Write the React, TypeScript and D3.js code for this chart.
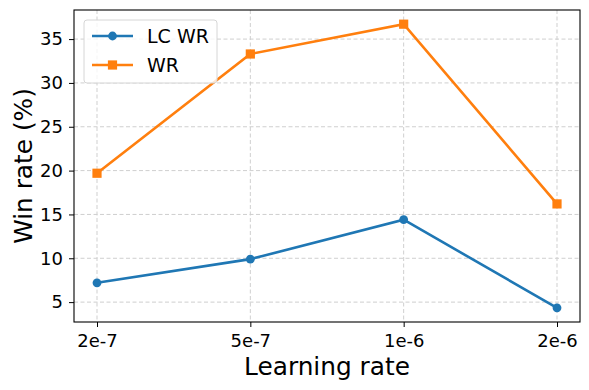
import React, { useEffect, useRef } from 'react';
import * as d3 from 'd3';

const learningRates = ['2e-7', '5e-7', '1e-6', '2e-6'];
const lcWinRate = [7.2, 9.9, 14.4, 4.35];
const winRate = [19.7, 33.3, 36.7, 16.2];
const yTicks = [5, 10, 15, 20, 25, 30, 35];

export default function App() {
  const ref = useRef<SVGSVGElement | null>(null);

  useEffect(() => {
    const W = 589;
    const H = 390;
    const margin = { top: 10, right: 9, bottom: 68, left: 74 };
    const width = W - margin.left - margin.right;
    const height = H - margin.top - margin.bottom;

    const svg = d3.select(ref.current);
    svg.selectAll('*').remove();
    const g = svg.append('g').attr('transform', `translate(${margin.left},${margin.top})`);

    // categorical positions with matplotlib-like 5% padding
    const x = d3.scaleLinear().domain([-0.15, 3.15]).range([0, width]);
    const all = lcWinRate.concat(winRate);
    const lo = d3.min(all)!;
    const hi = d3.max(all)!;
    const pad = (hi - lo) * 0.05;
    const y = d3.scaleLinear().domain([lo - pad, hi + pad]).range([height, 0]);

    const font = 'DejaVu Sans, sans-serif';

    // grid
    const grid = g.append('g');
    grid.selectAll('.gx')
      .data(learningRates)
      .enter()
      .append('line')
      .attr('x1', (_d, i) => x(i))
      .attr('x2', (_d, i) => x(i))
      .attr('y1', 0)
      .attr('y2', height)
      .attr('stroke', '#cfcfcf')
      .attr('stroke-width', 1)
      .attr('stroke-dasharray', '4,2.5');
    grid.selectAll('.gy')
      .data(yTicks)
      .enter()
      .append('line')
      .attr('x1', 0)
      .attr('x2', width)
      .attr('y1', d => y(d))
      .attr('y2', d => y(d))
      .attr('stroke', '#cfcfcf')
      .attr('stroke-width', 1)
      .attr('stroke-dasharray', '4,2.5');

    // axes
    const xAxis = d3.axisBottom(x)
      .tickValues([0, 1, 2, 3])
      .tickFormat(d => learningRates[d as number])
      .tickSize(5)
      .tickPadding(7);
    const yAxis = d3.axisLeft(y).tickValues(yTicks).tickSize(5).tickPadding(6);

    const xg = g.append('g').attr('transform', `translate(0,${height})`).call(xAxis);
    const yg = g.append('g').call(yAxis);
    [xg, yg].forEach(a => {
      a.select('.domain').remove();
      a.selectAll('.tick line').attr('stroke', '#000').attr('stroke-width', 1);
      a.selectAll('.tick text').attr('fill', '#000').style('font-family', font).style('font-size', '18px');
    });

    // frame
    g.append('rect')
      .attr('width', width)
      .attr('height', height)
      .attr('fill', 'none')
      .attr('stroke', '#000')
      .attr('stroke-width', 1.1);

    const series = [
      { name: 'LC WR', values: lcWinRate, color: '#1f77b4', marker: 'circle' },
      { name: 'WR', values: winRate, color: '#ff7f0e', marker: 'square' },
    ];

    const line = d3.line<number>().x((_d, i) => x(i)).y(d => y(d));

    series.forEach(s => {
      g.append('path')
        .datum(s.values)
        .attr('d', line)
        .attr('fill', 'none')
        .attr('stroke', s.color)
        .attr('stroke-width', 2.6);
      if (s.marker === 'circle') {
        g.selectAll(null)
          .data(s.values)
          .enter()
          .append('circle')
          .attr('cx', (_d, i) => x(i))
          .attr('cy', d => y(d))
          .attr('r', 4.4)
          .attr('fill', s.color);
      } else {
        g.selectAll(null)
          .data(s.values)
          .enter()
          .append('rect')
          .attr('x', (_d, i) => x(i) - 4.6)
          .attr('y', d => y(d) - 4.6)
          .attr('width', 9.2)
          .attr('height', 9.2)
          .attr('fill', s.color);
      }
    });

    // legend
    const leg = g.append('g').attr('transform', 'translate(10,10)');
    leg.append('rect')
      .attr('width', 133)
      .attr('height', 63)
      .attr('rx', 3)
      .attr('fill', 'rgba(255,255,255,0.8)')
      .attr('stroke', '#d6d6d6')
      .attr('stroke-width', 1);
    series.forEach((s, i) => {
      const cy = 16 + i * 29;
      const row = leg.append('g').attr('transform', `translate(0,${cy})`);
      row.append('line')
        .attr('x1', 8).attr('x2', 49)
        .attr('y1', 0).attr('y2', 0)
        .attr('stroke', s.color).attr('stroke-width', 2.6);
      if (s.marker === 'circle') {
        row.append('circle').attr('cx', 28.5).attr('cy', 0).attr('r', 4.4).attr('fill', s.color);
      } else {
        row.append('rect').attr('x', 28.5 - 4.6).attr('y', -4.6).attr('width', 9.2).attr('height', 9.2).attr('fill', s.color);
      }
      row.append('text')
        .attr('x', 63)
        .attr('y', 0)
        .attr('dy', '0.36em')
        .style('font-family', font)
        .style('font-size', '19px')
        .attr('fill', '#000')
        .text(s.name);
    });

    // axis labels
    g.append('text')
      .attr('x', width / 2)
      .attr('y', height + 53)
      .attr('text-anchor', 'middle')
      .style('font-family', font)
      .style('font-size', '24.8px')
      .attr('fill', '#000')
      .text('Learning rate');

    g.append('text')
      .attr('transform', 'rotate(-90)')
      .attr('x', -height / 2)
      .attr('y', -42)
      .attr('text-anchor', 'middle')
      .style('font-family', font)
      .style('font-size', '24.8px')
      .attr('fill', '#000')
      .text('Win rate (%)');
  }, []);

  return (
    <svg
      ref={ref}
      width={589}
      height={390}
      style={{ position: 'absolute', left: 0, top: 0, background: '#fff' }}
    />
  );
}
